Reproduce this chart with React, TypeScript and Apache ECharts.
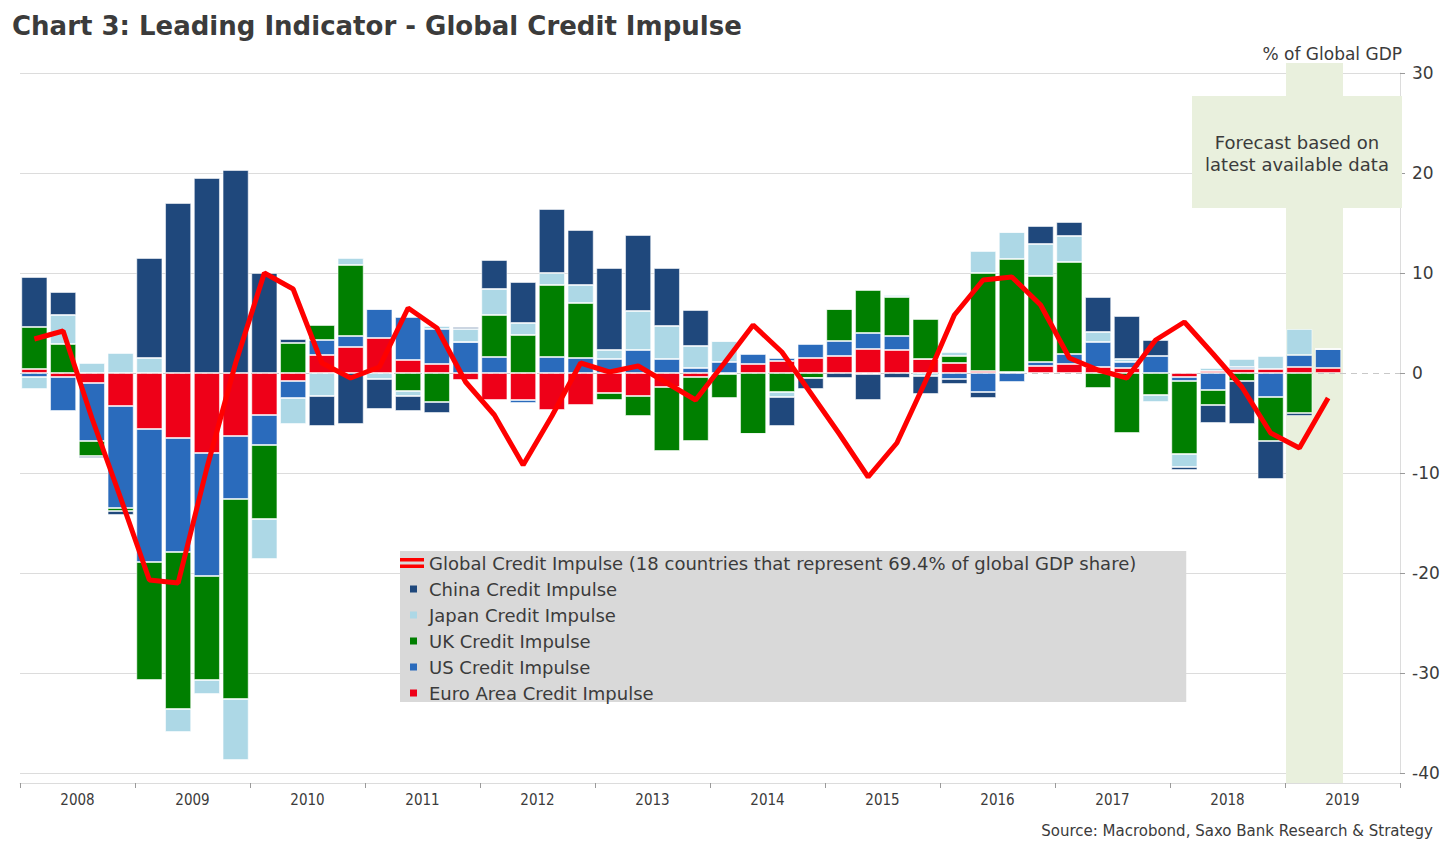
import React, { useEffect, useRef } from "react";
import * as echarts from "echarts";

const years = ["2008", "2009", "2010", "2011", "2012", "2013", "2014", "2015", "2016", "2017", "2018", "2019"];
const quarterNames = ["Q1", "Q2", "Q3", "Q4"];
const yTicks = [-40, -30, -20, -10, 0, 10, 20, 30];

const euroArea = [0.4, -0.4, -1.0, -3.3, -5.6, -6.5, -8.0, -6.3, -4.2, -0.8, 1.8, 2.6, 3.5, 1.3, 0.9, -0.7, -2.7, -2.7, -3.7, -3.2, -2.0, -2.3, -1.4, -0.4, -0.1, 0.9, 1.2, 1.5, 1.7, 2.4, 2.3, 1.4, 1.0, 0.2, 0.1, 0.7, 0.9, 0.6, 0.5, 0.0, -0.4, 0.2, 0.4, 0.4, 0.6, 0.5];
const us = [-0.4, -3.4, -5.8, -10.2, -13.3, -11.4, -12.3, -6.3, -3.0, -1.7, 1.5, 1.1, 2.9, 4.3, 3.5, 3.1, 1.6, -0.3, 1.6, 1.5, 1.4, 2.3, 1.4, 0.5, 1.1, 1.0, 0.3, 1.4, 1.5, 1.6, 1.4, 0.0, -0.6, -1.9, -0.9, 0.4, 1.0, 2.5, 0.6, 1.7, -0.4, -1.7, 0.2, -2.4, 1.2, 1.9];
const uk = [4.2, 2.9, -1.5, -0.3, -11.8, -15.7, -10.4, -20.0, -7.4, 3.0, 1.5, 7.1, 0.0, -1.8, -2.9, 0.0, 4.2, 3.8, 7.2, 5.5, -0.7, -2.0, -6.4, -6.4, -2.4, -6.1, -1.9, -0.5, 3.2, 4.3, 3.9, 4.0, 0.7, 9.8, 11.3, 8.6, 9.2, -1.5, -6.0, -2.2, -7.3, -1.5, -0.8, -4.4, -4.0, 0.0];
const japan = [-1.2, 2.9, 1.0, 2.0, 1.5, -2.3, -1.4, -6.1, -4.0, -2.6, -2.3, 0.7, -0.6, -0.5, 0.3, 1.3, 2.6, 1.2, 1.2, 1.8, 0.9, 3.9, 3.3, 2.2, 2.1, 0.0, -0.5, 0.0, 0.0, -0.1, 0.2, -0.3, 0.4, 2.2, 2.7, 3.2, 2.6, 1.0, 0.3, -0.7, -1.3, 0.3, 0.8, 1.3, 2.6, 0.0];
const china = [5.0, 2.3, -0.2, -0.4, 10.0, 17.0, 19.5, 20.3, 10.0, 0.4, -3.0, -5.1, -3.0, -1.5, -1.1, 0.2, 2.9, 4.1, 6.4, 5.5, 8.2, 7.6, 5.8, 3.6, 0.0, 0.0, -2.9, -1.1, -0.5, -2.6, -0.5, -1.8, -0.5, -0.6, 0.0, 1.8, 1.4, 3.5, 4.3, 1.6, -0.3, -1.8, -4.3, -3.8, -0.3, 0.0];
const globalImpulse = [3.4, 4.2, -4.5, -12.5, -20.7, -21.0, -9.5, 1.0, 10.0, 8.4, 1.0, -0.5, 0.6, 6.5, 4.5, -0.9, -4.2, -9.2, -4.3, 1.0, 0.1, 0.7, -1.0, -2.7, 1.0, 4.8, 2.1, -2.0, -6.1, -10.4, -7.0, -0.8, 5.8, 9.3, 9.6, 6.8, 1.5, 0.3, -0.5, 3.3, 5.1, 1.9, -1.4, -6.0, -7.5, -2.5];

const FONT = "DejaVu Sans";
const FONT_C = "DejaVu Sans Condensed";
const TEXT = "#3b3b3b";
const GLOBAL_NAME = "Global Credit Impulse (18 countries that represent 69.4% of global GDP share)";

const quarters = years.flatMap((y) => quarterNames.map((q) => y + q));

const SQUARE_ICON = "path://M0,0L0,0.01ZM24,11L24,11.01ZM10,2H17V9H10Z";
const LINE_ICON = "path://M0,0H26V4H0ZM0,7H26V11H0Z";

const barStyle = (color: string) => ({
  color,
  borderColor: "rgba(255,255,255,0.55)",
  borderWidth: 1,
});

export default function App() {
  const ref = useRef<HTMLDivElement>(null);
  useEffect(() => {
    if (!ref.current) return;
    const chart = echarts.init(ref.current, null, { renderer: "svg" });
    const barSeries = [
      { name: "Euro Area Credit Impulse", data: euroArea, color: "#ee0018" },
      { name: "US Credit Impulse", data: us, color: "#2a6bbc" },
      { name: "UK Credit Impulse", data: uk, color: "#007f00" },
      { name: "Japan Credit Impulse", data: japan, color: "#add8e6" },
      { name: "China Credit Impulse", data: china, color: "#1f487c" },
    ].map((s, i) => ({
      type: "bar",
      name: s.name,
      stack: "impulse",
      data: s.data,
      barCategoryGap: "9%",
      itemStyle: barStyle(s.color),
      z: 2,
      ...(i === 0
        ? {
            markLine: {
              z: 1,
              silent: true,
              symbol: "none",
              label: { show: false },
              lineStyle: { color: "#c8c8c8", type: [6, 5], width: 1 },
              data: [{ yAxis: 0 }],
            },
          }
        : {}),
    }));

    chart.setOption({
      animation: false,
      textStyle: { fontFamily: FONT },
      title: [
        {
          text: "Chart 3: Leading Indicator - Global Credit Impulse",
          left: 7,
          top: 8,
          textStyle: { fontFamily: FONT, fontSize: 26, fontWeight: "bold", color: TEXT },
        },
        {
          text: "Source: Macrobond, Saxo Bank Research & Strategy",
          right: 8,
          top: 818,
          textStyle: { fontFamily: FONT, fontSize: 15, fontWeight: "normal", color: TEXT },
        },
      ],
      grid: { left: 20, right: 46, top: 73, bottom: 73, containLabel: false },
      legend: {
        orient: "vertical",
        left: 400,
        top: 551,
        backgroundColor: "#d9d9d9",
        padding: [3, 50, 0, 0],
        itemWidth: 24,
        itemHeight: 11,
        itemGap: 8,
        itemStyle: { borderWidth: 0 },
        textStyle: { fontFamily: FONT, fontSize: 18, color: TEXT, lineHeight: 18 },
        data: [
          { name: GLOBAL_NAME, icon: LINE_ICON },
          { name: "China Credit Impulse", icon: SQUARE_ICON },
          { name: "Japan Credit Impulse", icon: SQUARE_ICON },
          { name: "UK Credit Impulse", icon: SQUARE_ICON },
          { name: "US Credit Impulse", icon: SQUARE_ICON },
          { name: "Euro Area Credit Impulse", icon: SQUARE_ICON },
        ],
      },
      xAxis: [
        {
          type: "category",
          data: quarters,
          boundaryGap: true,
          axisLine: { show: false },
          axisTick: { show: false },
          axisLabel: { show: false },
          splitLine: { show: false },
        },
        {
          type: "category",
          data: years,
          position: "bottom",
          offset: 10,
          boundaryGap: true,
          axisLine: { show: true, lineStyle: { color: "#dcdcdc", width: 1 } },
          axisTick: { show: true, length: 5, lineStyle: { color: "#9a9a9a" } },
          axisLabel: { fontFamily: FONT_C, fontSize: 15, color: TEXT, margin: 9 },
          splitLine: { show: false },
        },
      ],
      yAxis: {
        type: "value",
        position: "right",
        min: -40,
        max: 30,
        interval: 10,
        name: "% of Global GDP",
        nameLocation: "end",
        nameGap: 11,
        nameTextStyle: { fontFamily: FONT, fontSize: 17, color: TEXT, align: "right", verticalAlign: "bottom", padding: [0, -2, 0, 0] },
        axisLine: { show: true, lineStyle: { color: "#dcdcdc" } },
        axisTick: { show: true, length: 5, lineStyle: { color: "#9a9a9a" } },
        axisLabel: { fontFamily: FONT, fontSize: 17, color: TEXT, margin: 12 },
        splitLine: {
          show: true,
          lineStyle: {
            width: 1,
            color: yTicks.map((t) => (t === 0 ? "rgba(0,0,0,0)" : "#dcdcdc")),
          },
        },
      },
      graphic: [
        { type: "rect", z: 1, silent: true, shape: { x: 1286, y: 63, width: 57, height: 720 }, style: { fill: "#e9f0dd" } },
        { type: "rect", z: 1, silent: true, shape: { x: 1192, y: 96, width: 210, height: 112 }, style: { fill: "#e9f0dd" } },
        {
          type: "text",
          z: 3,
          silent: true,
          x: 1297,
          y: 153,
          style: {
            text: "Forecast based on\nlatest available data",
            fontFamily: FONT,
            fontSize: 18,
            lineHeight: 22,
            fill: TEXT,
            textAlign: "center",
            textVerticalAlign: "middle",
          },
        },
      ],
      series: [
        ...barSeries,
        {
          type: "line",
          name: GLOBAL_NAME,
          data: globalImpulse,
          symbol: "none",
          z: 4,
          lineStyle: { color: "#ff0000", width: 5 },
          itemStyle: { color: "#ff0000" },
        },
      ],
    });
    return () => chart.dispose();
  }, []);
  return <div ref={ref} style={{ position: "absolute", left: 0, top: 0, width: 1446, height: 846 }} />;
}
